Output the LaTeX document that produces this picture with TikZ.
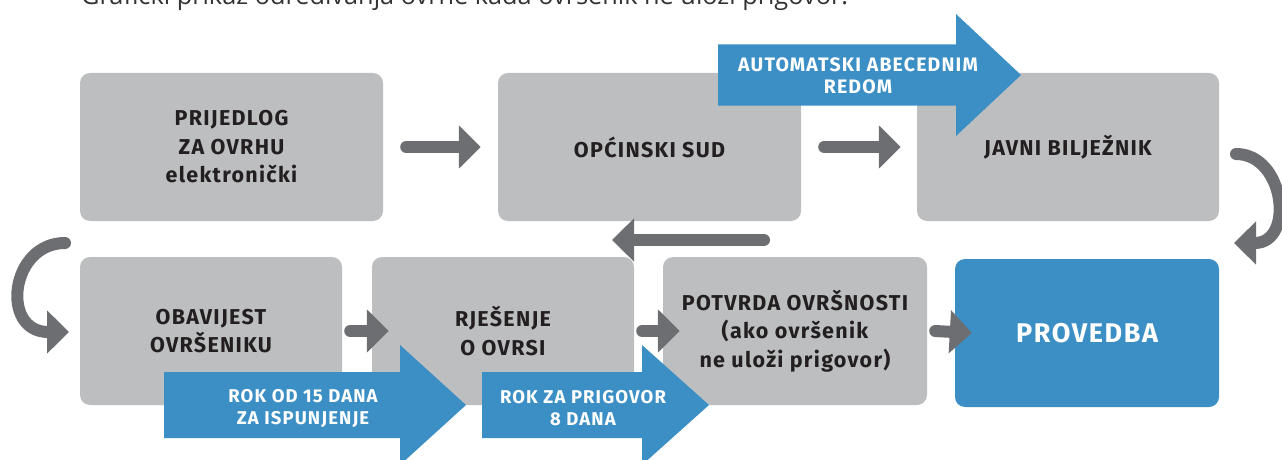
\documentclass[tikz,border=0pt]{standalone}
\usepackage{fontspec}
\setmainfont{Fira Sans}[LetterSpace=6]
\newfontfamily\titlefont{Open Sans}
\usetikzlibrary{arrows.meta}
\definecolor{boxgray}{HTML}{BCBEC0}
\definecolor{arrowgray}{HTML}{6D6E71}
\definecolor{stepblue}{HTML}{3B8FC5}
\definecolor{textdark}{HTML}{231F20}
\newcommand{\bluearrow}[6]{%
  \fill[stepblue] (#1,#4-#5) -- (#2,#4-#5) -- (#2,#4-#6) -- (#3,#4)
    -- (#2,#4+#6) -- (#2,#4+#5) -- (#1,#4+#5) -- cycle;
}

\begin{document}
\begin{tikzpicture}[
        x=1pt, y=-1pt,
        every node/.style={inner sep=0pt, align=center, text=textdark,
          font=\bfseries\fontsize{21.5}{28.5}\selectfont},
        stepbox/.style={fill=boxgray, rounded corners=10pt,
          minimum width=#1, minimum height=148pt},
        flow/.style={draw=arrowgray, line width=12pt, line cap=round,
          -{Triangle[length=22pt,width=42pt]}},
        bluelabel/.style={text=white, font=\bfseries\fontsize{18.5}{22}\selectfont},
      ]
      \useasboundingbox (0,0) rectangle (1282,460);
      \node[anchor=base west, text=black!80,
        font=\titlefont\fontsize{25.3}{30}\selectfont] (naslov) at (81,5)
        {Grafički prikaz određivanja ovrhe kada ovršenik ne uloži prigovor.};

      \node[stepbox=303pt] (prijedlog) at (231.5,147) {PRIJEDLOG\\ZA OVRHU\\elektronički};
      \node[stepbox=303pt] (sud) at (649.5,147) {OPĆINSKI SUD};
      \node[stepbox=302pt] (biljeznik) at (1068,147) {JAVNI BILJEŽNIK};
      \node[stepbox=262pt] (obavijest) at (211,331) {OBAVIJEST\\OVRŠENIKU};
      \node[stepbox=262pt] (rjesenje) at (503,331) {RJEŠENJE\\O OVRSI};
      \node[stepbox=264pt] (potvrda) at (795,331) {POTVRDA OVRŠNOSTI\\(ako ovršenik\\ne uloži prigovor)};
      \node[stepbox=264pt, fill=stepblue, text=white,
        font=\bfseries\fontsize{27}{30}\selectfont] (provedba) at (1087,333) {PROVEDBA};

      \coordinate (rturn) at (1236,154);
      \coordinate (rturnend) at (1234,243);
      \coordinate (backstart) at (764,240);
      \coordinate (backend) at (612,240);
      \coordinate (lturn) at (65,243);
      \coordinate (lturnend) at (69,332);

      \draw[flow] ([xshift=23pt]prijedlog.east) -- ([xshift=-17pt]sud.west);
      \draw[flow] ([xshift=23pt]sud.east) -- ([xshift=-16pt]biljeznik.west);
      \draw[flow] (rturn) .. controls (1285,154) and (1295,243) .. (rturnend);
      \draw[flow] (backstart) -- (backend);
      \draw[flow] (lturn) .. controls (10,243) and (0,332) .. (lturnend);
      \draw[flow] ([xshift=8pt]obavijest.east) -- ([xshift=17pt]rjesenje.west);
      \draw[flow] ([xshift=8pt]rjesenje.east) -- ([xshift=17pt]potvrda.west);
      \draw[flow] ([xshift=8pt]potvrda.east) -- ([xshift=17pt]provedba.west);

      \bluearrow{718}{956}{1021}{75}{30.5}{61}
      \node[bluelabel, font=\bfseries\fontsize{19.5}{22}\selectfont] (automatski) at (858,76)
        {AUTOMATSKI ABECEDNIM\\REDOM};
      \bluearrow{164}{400}{466}{405}{33}{60}
      \node[bluelabel] (rokispunjenje) at (303,408) {ROK OD 15 DANA\\ZA ISPUNJENJE};
      \bluearrow{482}{642}{709}{405}{33}{60}
      \node[bluelabel] (rokprigovor) at (583,408) {ROK ZA PRIGOVOR\\8 DANA};
      \end{tikzpicture}
\end{document}
